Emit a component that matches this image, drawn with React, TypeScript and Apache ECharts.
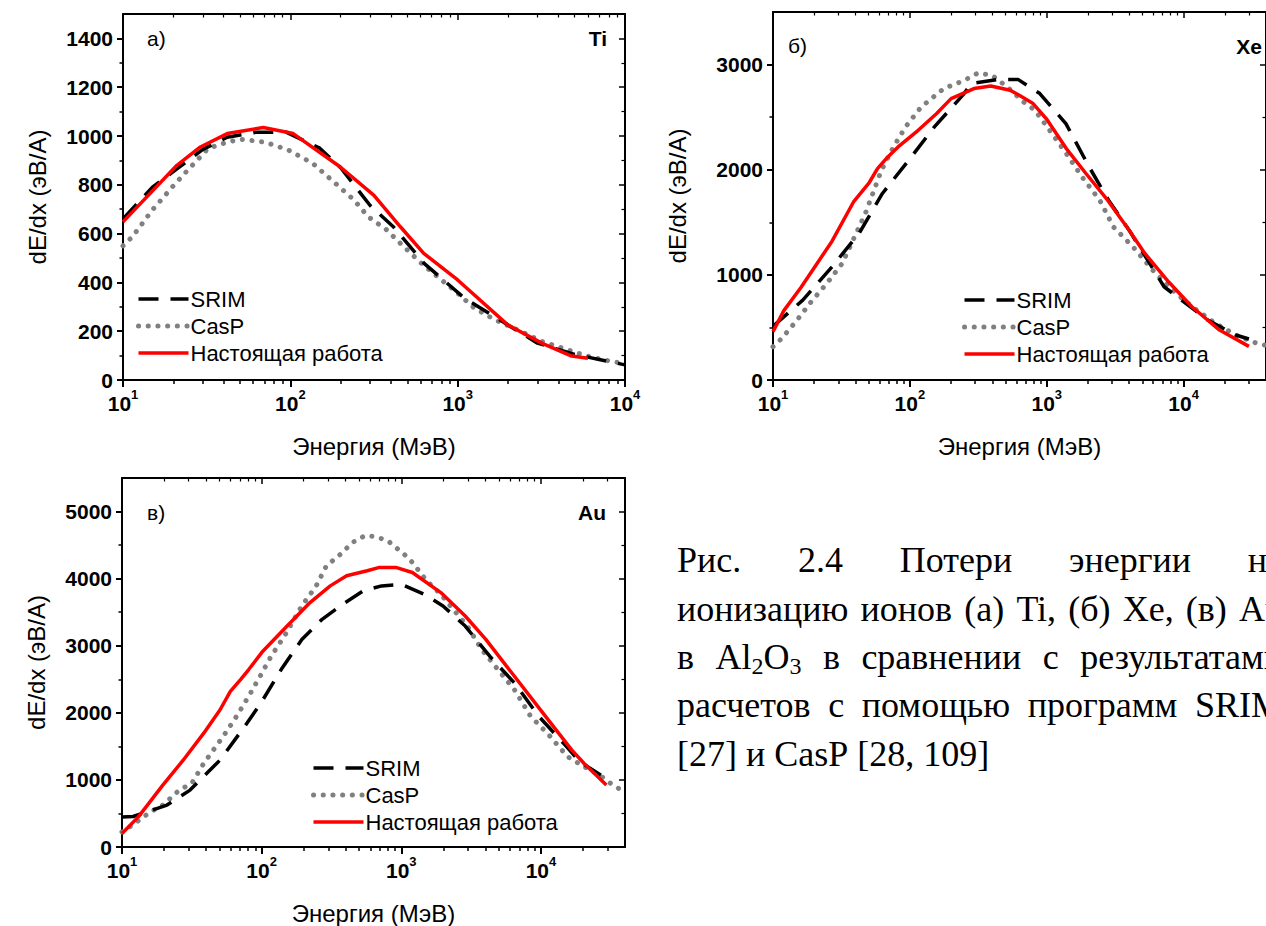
import React, { useEffect, useRef } from 'react';
import * as echarts from 'echarts';

const SANS = '"Liberation Sans", Arial, sans-serif';
const SERIF = '"Liberation Serif", "Times New Roman", serif';

const seriesNames = ['SRIM', 'CasP', 'Настоящая работа'];
const xTitle = 'Энергия (МэВ)';
const yTitle = 'dE/dx (эВ/А)';

// а) Ti
const tiSrimE = [10, 15, 21, 30, 42, 62, 95, 150, 200, 300, 414, 630, 1100, 2000, 3000, 5000, 10000];
const tiSrimV = [660, 790, 865, 945, 995, 1015, 1015, 950, 870, 715, 627, 478, 335, 225, 151, 105, 62];
const tiCaspE = [10, 11.4, 15, 20.6, 25.8, 32.3, 42.8, 52, 71, 97, 136, 186, 240, 292, 377, 472, 608, 777, 977, 1260, 1680, 2290, 3210, 4270, 5650, 7500, 9700];
const tiCaspV = [550, 588, 697, 806, 878, 949, 977, 986, 974, 943, 888, 806, 738, 669, 615, 549, 478, 417, 362, 294, 246, 205, 157, 130, 102, 82, 68];
const tiWorkE = [10, 21, 29, 42, 69, 104, 199, 316, 456, 627, 1000, 2000, 3200, 4800, 6000];
const tiWorkV = [648, 880, 955, 1010, 1035, 1010, 873, 757, 627, 519, 410, 225, 150, 98, 89];

// б) Xe
const xeSrimE = [10, 16.5, 27, 42.5, 63, 98, 151, 249, 280, 430, 620, 890, 1380, 2040, 2830, 4000, 7200, 15000, 24000, 30000];
const xeSrimV = [510, 760, 1077, 1394, 1774, 2090, 2407, 2724, 2820, 2857, 2857, 2724, 2439, 2027, 1710, 1425, 887, 570, 428, 390];
const xeCaspE = [10, 11.6, 15, 19, 24.7, 32, 40.5, 47.8, 62, 76, 93, 121, 177, 250, 315, 398, 515, 676, 820, 1070, 1390, 1810, 2440, 3070, 4260, 5950, 8280, 11500, 17100, 25400, 34600, 40000];
const xeCaspV = [317, 396, 570, 744, 918, 1108, 1394, 1600, 1996, 2217, 2407, 2597, 2772, 2850, 2920, 2898, 2787, 2645, 2566, 2360, 2154, 1932, 1710, 1457, 1267, 1045, 855, 697, 538, 412, 348, 330];
const xeWorkE = [10, 12, 16, 27, 39, 50, 58, 69, 82, 115, 157, 200, 294, 390, 540, 630, 795, 1000, 1390, 1935, 2785, 4000, 5210, 7760, 11500, 18300, 30000];
const xeWorkV = [460, 660, 880, 1320, 1700, 1869, 2011, 2122, 2217, 2375, 2534, 2676, 2772, 2796, 2755, 2708, 2629, 2480, 2201, 1964, 1710, 1425, 1204, 934, 697, 475, 320];

// в) Au
const auSrimE = [10, 12, 21, 30.7, 50.4, 75.5, 98.8, 138, 194, 271, 380, 533, 723, 1000, 1460, 1990, 2870, 4300, 6460, 9670, 14500, 19000, 30400];
const auSrimV = [449, 455, 625, 848, 1297, 1796, 2146, 2645, 3094, 3393, 3618, 3817, 3892, 3917, 3767, 3593, 3293, 2844, 2445, 1946, 1547, 1272, 998];
const auCaspE = [10, 11.8, 16, 19.6, 25.7, 31.6, 38.5, 47, 54, 66, 80.8, 99, 117, 148, 194, 246, 291, 357, 449, 550, 652, 800, 912, 1047, 1200, 1520, 1920, 2350, 2970, 3760, 4920, 6460, 8450, 11100, 15500, 20300, 26300, 30300, 37000];
const auCaspV = [225, 324, 524, 624, 848, 948, 1247, 1497, 1672, 1946, 2246, 2570, 2844, 3169, 3593, 3892, 4192, 4341, 4541, 4641, 4626, 4566, 4466, 4366, 4242, 3967, 3767, 3543, 3293, 2944, 2645, 2345, 1946, 1697, 1347, 1198, 1073, 973, 858];
const auWorkE = [10, 13.1, 19.6, 27.5, 38.5, 50.4, 59.7, 70.6, 80.8, 102, 148, 222, 310, 406, 570, 698, 912, 1200, 1920, 2870, 4030, 6460, 10350, 16600, 20300, 29400];
const auWorkV = [200, 449, 923, 1297, 1697, 2046, 2320, 2495, 2645, 2919, 3268, 3643, 3892, 4042, 4117, 4167, 4167, 4092, 3792, 3443, 3094, 2545, 1996, 1447, 1248, 923];

// ticks
const xMajorTicks = [10, 100, 1000, 10000];
const xMinorTicks = [20, 30, 40, 50, 60, 70, 80, 90, 200, 300, 400, 500, 600, 700, 800, 900, 2000, 3000, 4000, 5000, 6000, 7000, 8000, 9000, 20000, 30000];
const tiYTicks = [0, 200, 400, 600, 800, 1000, 1200, 1400];
const tiYMinor = [100, 300, 500, 700, 900, 1100, 1300];
const xeYTicks = [0, 1000, 2000, 3000];
const xeYMinor = [500, 1500, 2500];
const auYTicks = [0, 1000, 2000, 3000, 4000, 5000];
const auYMinor = [500, 1500, 2500, 3500, 4500];

// caption
const captionLines: { words: (string | [string, number][])[]; justify: boolean }[] = [
  { words: ['Рис.', '2.4', 'Потери', 'энергии', 'на'], justify: true },
  { words: ['ионизацию', 'ионов', '(а)', 'Ti,', '(б)', 'Xe,', '(в)', 'Au'], justify: true },
  { words: ['в', [['Al', 0], ['2', 1], ['O', 0], ['3', 1]], 'в', 'сравнении', 'с', 'результатами'], justify: true },
  { words: ['расчетов', 'с', 'помощью', 'программ', 'SRIM'], justify: true },
  { words: ['[27]', 'и', 'CasP', '[28,', '109]'], justify: false },
];

const zip = (e: number[], v: number[]) => e.map((x, i) => [x, v[i]]);

const panels = [
  {
    letter: 'а)', ion: 'Ti', xMax: 10000, yMax: 1500, yTicks: tiYTicks, yMinor: tiYMinor,
    srim: zip(tiSrimE, tiSrimV), casp: zip(tiCaspE, tiCaspV), work: zip(tiWorkE, tiWorkV),
    rect: { left: 123, top: 14, width: 502, height: 366 },
    legend: { left: 136, top: 288 }, yNameGap: 74,
    letterPos: [147, 38], ionPos: [607, 38],
  },
  {
    letter: 'б)', ion: 'Xe', xMax: 40000, yMax: 3500, yTicks: xeYTicks, yMinor: xeYMinor,
    srim: zip(xeSrimE, xeSrimV), casp: zip(xeCaspE, xeCaspV), work: zip(xeWorkE, xeWorkV),
    rect: { left: 773, top: 12, width: 501, height: 368 },
    legend: { left: 962, top: 289 }, yNameGap: 84,
    letterPos: [788, 45], ionPos: [1262, 46],
  },
  {
    letter: 'в)', ion: 'Au', xMax: 40000, yMax: 5500, yTicks: auYTicks, yMinor: auYMinor,
    srim: zip(auSrimE, auSrimV), casp: zip(auCaspE, auCaspV), work: zip(auWorkE, auWorkV),
    rect: { left: 122, top: 478, width: 503, height: 369 },
    legend: { left: 311, top: 757 }, yNameGap: 74,
    letterPos: [147, 512], ionPos: [606, 512],
  },
];

const styles: Record<string, any> = {
  SRIM: { color: '#000', width: 3.5, type: [20, 12], cap: 'butt' },
  CasP: { color: '#808080', width: 5, type: [0.1, 9.6], cap: 'round' },
  'Настоящая работа': { color: '#ff0000', width: 3.5, type: 'solid', cap: 'butt' },
};

function buildCaption(): any[] {
  const canvas = document.createElement('canvas');
  const ctx = canvas.getContext('2d') as CanvasRenderingContext2D;
  const size = 36;
  const subSize = 24;
  const left = 677;
  const width = 606;
  const base0 = 572.5;
  const lineStep = 48.3;
  const measure = (t: string, s: number) => {
    ctx.font = `${s}px "Liberation Serif"`;
    return ctx.measureText(t).width;
  };
  const els: any[] = [];
  captionLines.forEach((line, li) => {
    const words = line.words.map((w) => (typeof w === 'string' ? ([[w, 0]] as [string, number][]) : w));
    const widths = words.map((segs) => segs.reduce((a, [t, sub]) => a + measure(t, sub ? subSize : size), 0));
    const total = widths.reduce((a, b) => a + b, 0);
    const gap = line.justify ? (width - total) / (words.length - 1) : measure(' ', size);
    let x = left;
    const base = base0 + li * lineStep;
    words.forEach((segs) => {
      segs.forEach(([t, sub]) => {
        const s = sub ? subSize : size;
        const y = sub ? base + 5 - 0.3375 * s : base - 0.3375 * s;
        els.push({
          type: 'text', x, y, silent: true,
          style: { text: t, font: `${s}px ${SERIF}`, fill: '#000', align: 'left', verticalAlign: 'middle', textAlign: 'left', textVerticalAlign: 'middle' },
        });
        x += measure(t, s);
      });
      x += gap;
    });
  });
  return els;
}

export default function App() {
  const ref = useRef<HTMLDivElement>(null);
  useEffect(() => {
    if (!ref.current) return;
    const chart = echarts.init(ref.current, undefined, { renderer: 'svg' });
    const grid: any[] = [];
    const xAxis: any[] = [];
    const yAxis: any[] = [];
    const series: any[] = [];
    const legend: any[] = [];
    const graphic: any[] = [];
    const black = '#000';
    panels.forEach((p, i) => {
      grid.push({ ...p.rect, containLabel: false });
      const xb = { type: 'log', logBase: 10, min: 10, max: p.xMax, gridIndex: i, splitLine: { show: false }, minorTick: { show: false }, minorSplitLine: { show: false } };
      xAxis.push({
        ...xb, position: 'bottom', name: xTitle, nameLocation: 'middle', nameGap: 54,
        nameTextStyle: { fontFamily: SANS, fontSize: 24, color: black },
        axisLine: { show: true, onZero: false, lineStyle: { color: black, width: 2 } },
        axisTick: { show: true, inside: false, length: 7, customValues: xMajorTicks, lineStyle: { color: black, width: 2 } },
        axisLabel: {
          show: true, margin: 8, customValues: xMajorTicks,
          formatter: (v: number) => `{b|10}{s|${Math.round(Math.log10(v))}}`,
          rich: {
            b: { fontFamily: SANS, fontSize: 21, fontWeight: 'bold', color: black, padding: [5, 0, 0, 0] },
            s: { fontFamily: SANS, fontSize: 13, fontWeight: 'bold', color: black, verticalAlign: 'top' },
          },
        },
      });
      xAxis.push({
        ...xb, position: 'bottom',
        axisLine: { show: false, onZero: false },
        axisTick: { show: true, inside: false, length: 4, customValues: xMinorTicks, lineStyle: { color: black, width: 1.5 } },
        axisLabel: { show: false },
      });
      xAxis.push({
        ...xb, position: 'top',
        axisLine: { show: true, onZero: false, lineStyle: { color: black, width: 2 } },
        axisTick: { show: true, inside: true, length: 6, customValues: xMajorTicks, lineStyle: { color: black, width: 1.5 } },
        axisLabel: { show: false },
      });
      xAxis.push({
        ...xb, position: 'top',
        axisLine: { show: false, onZero: false },
        axisTick: { show: true, inside: true, length: 3.5, customValues: xMinorTicks, lineStyle: { color: black, width: 1.2 } },
        axisLabel: { show: false },
      });
      const yb = { type: 'value', min: 0, max: p.yMax, gridIndex: i, splitLine: { show: false }, minorTick: { show: false } };
      yAxis.push({
        ...yb, position: 'left', name: yTitle, nameLocation: 'middle', nameGap: p.yNameGap, nameRotate: 90,
        nameTextStyle: { fontFamily: SANS, fontSize: 24, color: black },
        axisLine: { show: true, onZero: false, lineStyle: { color: black, width: 2 } },
        axisTick: { show: true, inside: false, length: 6, customValues: p.yTicks, lineStyle: { color: black, width: 2 } },
        axisLabel: {
          show: true, margin: 10, customValues: p.yTicks, fontFamily: SANS, fontSize: 21, fontWeight: 'bold', color: black,
          formatter: (v: number) => String(v),
        },
      });
      yAxis.push({
        ...yb, position: 'left',
        axisLine: { show: false, onZero: false },
        axisTick: { show: true, inside: false, length: 3.5, customValues: p.yMinor, lineStyle: { color: black, width: 1.5 } },
        axisLabel: { show: false },
      });
      yAxis.push({
        ...yb, position: 'right',
        axisLine: { show: true, onZero: false, lineStyle: { color: black, width: 2 } },
        axisTick: { show: true, inside: true, length: 6, customValues: p.yTicks, lineStyle: { color: black, width: 1.5 } },
        axisLabel: { show: false },
      });
      yAxis.push({
        ...yb, position: 'right',
        axisLine: { show: false, onZero: false },
        axisTick: { show: true, inside: true, length: 3.5, customValues: p.yMinor, lineStyle: { color: black, width: 1.2 } },
        axisLabel: { show: false },
      });
      const common = { type: 'line', xAxisIndex: 4 * i, yAxisIndex: 4 * i, symbol: 'none', showSymbol: false, smooth: false, clip: true };
      series.push({ ...common, name: 'CasP', data: p.casp, z: 2, itemStyle: { color: '#808080' }, lineStyle: { ...styles.CasP } });
      series.push({ ...common, name: 'SRIM', data: p.srim, z: 3, itemStyle: { color: black }, lineStyle: { ...styles.SRIM } });
      series.push({ ...common, name: 'Настоящая работа', data: p.work, z: 4, itemStyle: { color: '#ff0000' }, lineStyle: { ...styles['Настоящая работа'] } });
      legend.push({
        left: p.legend.left, top: p.legend.top, orient: 'vertical', padding: 0, itemGap: 5,
        itemWidth: 50, itemHeight: 14, selectedMode: false,
        itemStyle: { opacity: 0, borderWidth: 0 },
        data: seriesNames.map((n) => ({ name: n, lineStyle: { ...styles[n] }, itemStyle: { opacity: 0, borderWidth: 0 } })),
        textStyle: { fontFamily: SANS, fontSize: 22, color: black, padding: [0, 0, 0, -3] },
      });
      graphic.push({
        type: 'text', x: p.letterPos[0], y: p.letterPos[1], silent: true,
        style: { text: p.letter, font: `21px ${SANS}`, fill: black, align: 'left', verticalAlign: 'middle', textAlign: 'left', textVerticalAlign: 'middle' },
      });
      graphic.push({
        type: 'text', x: p.ionPos[0], y: p.ionPos[1], silent: true,
        style: { text: p.ion, font: `bold 21px ${SANS}`, fill: black, align: 'right', verticalAlign: 'middle', textAlign: 'right', textVerticalAlign: 'middle' },
      });
    });
    graphic.push(...buildCaption());
    chart.setOption({
      animation: false,
      backgroundColor: '#fff',
      grid, xAxis, yAxis, series, legend, graphic,
    });
    return () => chart.dispose();
  }, []);
  return (
    <div style={{ position: 'fixed', left: 0, top: 0, width: 1266, height: 926, background: '#fff', overflow: 'hidden' }}>
      <div ref={ref} style={{ width: 1266, height: 926 }} />
    </div>
  );
}
